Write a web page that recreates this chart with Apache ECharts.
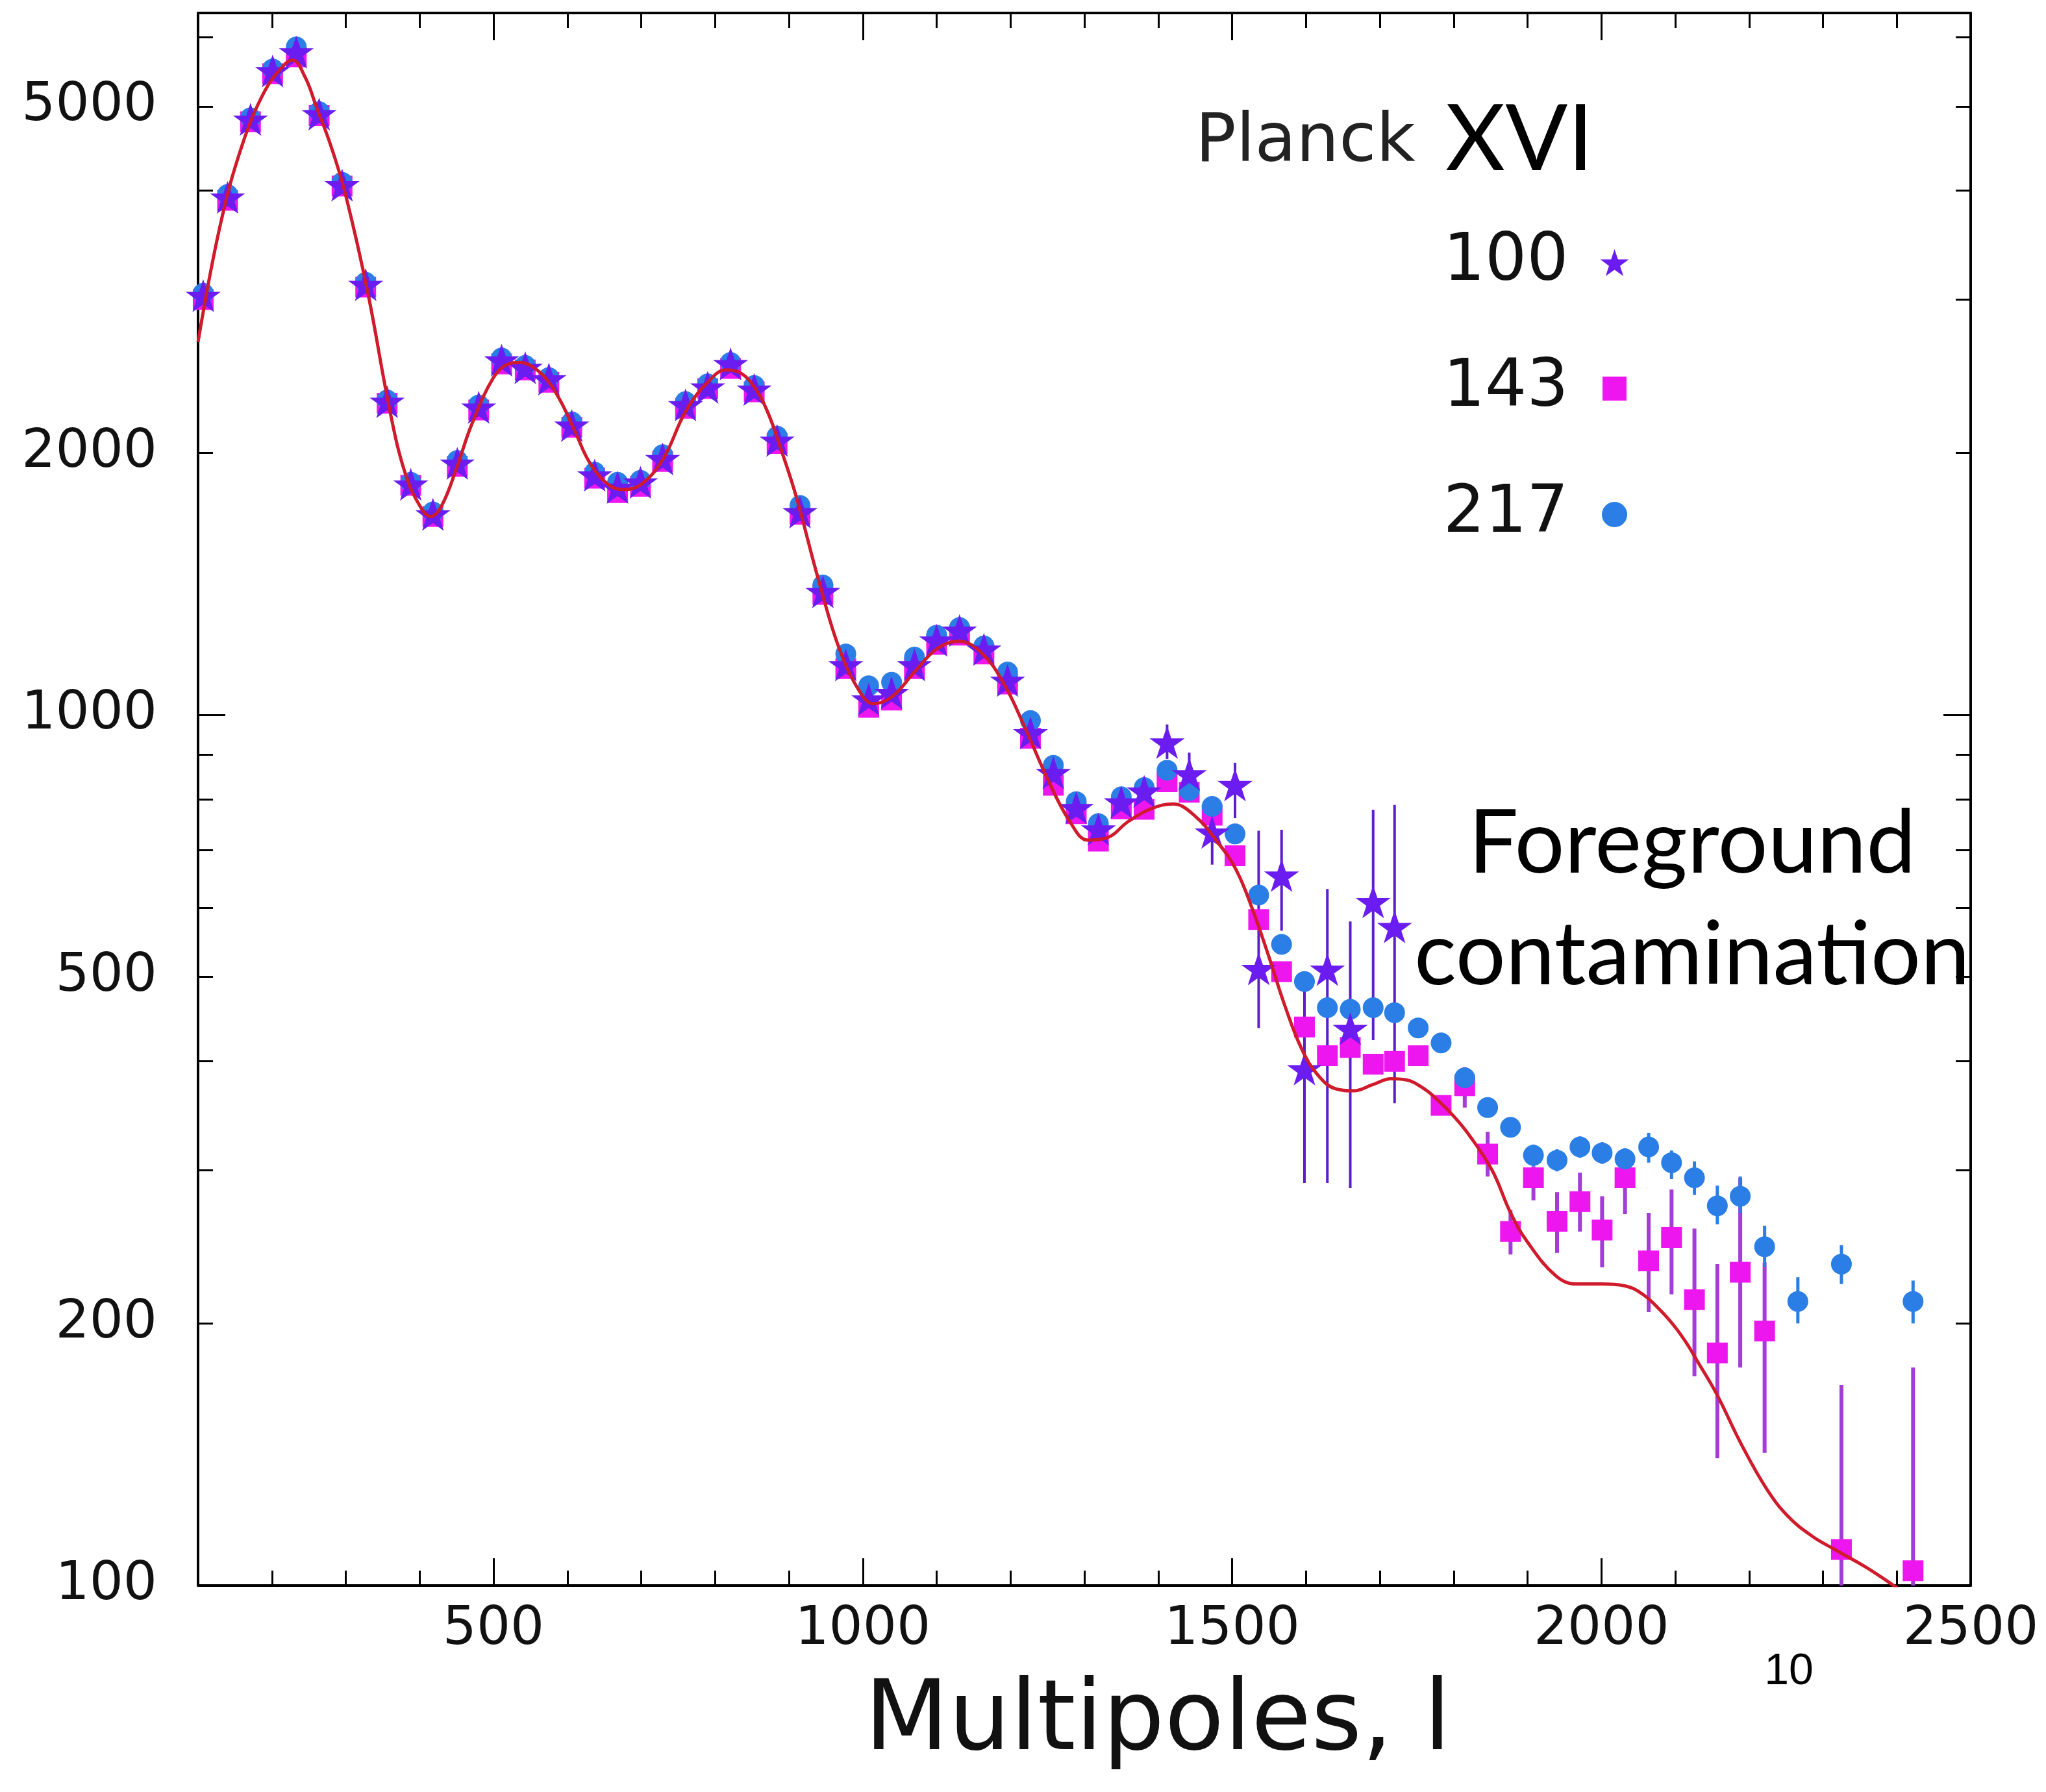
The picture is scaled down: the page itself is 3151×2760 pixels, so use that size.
<!DOCTYPE html>
<html>
<head>
<meta charset="utf-8">
<script src="https://cdn.jsdelivr.net/npm/echarts@6/dist/echarts.min.js"></script>
<style>
  html, body { margin: 0; padding: 0; background: #fff; }
  #chart { width: 3151px; height: 2760px; }
</style>
</head>
<body>
<div id="chart"></div>
<script>
// multipole bins (shared by all three frequency channels)
const ell = [107, 140, 171, 201, 233, 264, 295, 327, 356, 388, 418, 451, 480, 511, 543, 575, 606, 637, 668, 699,
  729, 760, 790, 821, 853, 884, 915, 946, 977, 1008, 1039, 1070, 1100, 1131, 1164, 1196, 1227, 1258, 1289, 1319,
  1350, 1381, 1412, 1442, 1473, 1504, 1536, 1567, 1598, 1629, 1660, 1691, 1720, 1752, 1783, 1815, 1846, 1877, 1908,
  1940, 1971, 2001, 2032, 2064, 2095, 2126, 2157, 2188, 2221, 2266, 2325, 2422]

// 100 GHz (stars)
const d100 = [3030, 3930, 4830, 5490, 5770, 4900, 4060, 3120, 2290, 1840, 1700, 1945, 2255, 2555, 2505, 2430, 2150, 1885, 1825, 1850,
  1968, 2270, 2378, 2530, 2365, 2066, 1710, 1385, 1141, 1042, 1060, 1141, 1218, 1250, 1189, 1095, 953, 858, 782, 739,
  794, 817, 930, 855, 733, 831, 511, 654, 392, 510, 436, 610, 571, null, null, null, null, null, null,
  null, null, null, null, null, null, null, null, null, null, null, null, null]

// 143 GHz (squares)
const d143 = [3000, 3900, 4800, 5450, 5700, 4880, 4050, 3100, 2280, 1835, 1690, 1930, 2240, 2530, 2490, 2410, 2140, 1870, 1800, 1830,
  1955, 2250, 2370, 2500, 2350, 2050, 1700, 1375, 1130, 1020, 1040, 1130, 1205, 1235, 1175, 1085, 940, 830, 770, 716,
  780, 779, 838, 815, 767, 689, 582, 507, 438, 406, 415, 397, 400, 406, 356, 375, 313, 255, 294,
  262, 276, 256, 294, 236, 251, 213, 185, 229, 196, null, 110, 104]

// 217 GHz (circles)
const d217 = [3050, 3960, 4850, 5520, 5850, 4930, 4090, 3140, 2300, 1850, 1710, 1960, 2270, 2570, 2520, 2440, 2170, 1900, 1850, 1860,
  1990, 2290, 2400, 2540, 2390, 2090, 1740, 1410, 1175, 1080, 1090, 1165, 1235, 1260, 1200, 1120, 985, 875, 795, 750,
  805, 825, 864, 819, 785, 730, 621, 545, 494, 461, 459, 461, 455, 437, 420, 383, 354, 336, 312,
  308, 319, 314, 309, 319, 306, 294, 273, 280, 245, 212, 234, 212]

// error bars: [l, low, high]
const err100 = [[1412, 890, 975], [1442, 800, 905], [1473, 673, 803], [1504, 761, 881], [1536, 437, 736],
  [1567, 565, 738], [1598, 290, 500], [1629, 290, 631], [1660, 286, 579], [1691, 423, 778], [1720, 358, 788]]
const err143 = [[1815, 354, 394], [1846, 295, 332], [1877, 240, 270], [1908, 277, 303], [1940, 241, 283],
  [1971, 255, 298], [2001, 232, 280], [2032, 267, 300], [2064, 206, 268], [2095, 216, 285], [2126, 174, 257],
  [2157, 140, 234], [2188, 178, 294], [2221, 142, 235], [2325, 100, 170], [2422, 100, 178]]
const err217 = [[1908, 303, 321], [1940, 299, 317], [1971, 310, 328], [2001, 305, 323], [2032, 300, 318],
  [2064, 306, 331], [2095, 293, 316], [2126, 281, 307], [2157, 260, 288], [2188, 268, 295], [2221, 232, 259],
  [2266, 200, 226], [2325, 222, 246], [2422, 200, 224]]

// best-fit model curve
const theoryL = [100, 130, 160, 190, 215, 228, 245, 260, 280, 300, 330, 360, 380, 400, 415, 430, 450, 470, 500, 520,
  535, 550, 570, 590, 610, 630, 655, 675, 700, 730, 760, 790, 815, 830, 850, 870, 890, 910, 940, 970,
  1000, 1015, 1040, 1070, 1100, 1130, 1160, 1190, 1220, 1250, 1280, 1305, 1330, 1360, 1390, 1420, 1450, 1480, 1505, 1527,
  1550, 1572, 1595, 1617, 1640, 1665, 1690, 1715, 1735, 1760, 1780, 1800, 1820, 1852, 1877, 1900, 1938, 1966, 2000, 2031,
  2056, 2080, 2100, 2115, 2130, 2156, 2190, 2224, 2253, 2285, 2316, 2358, 2392, 2410]
const theoryV = [2680, 3650, 4520, 5200, 5560, 5650, 5400, 5000, 4500, 3950, 3050, 2230, 1900, 1740, 1690, 1740, 1920, 2150, 2440, 2530,
  2540, 2520, 2440, 2300, 2120, 1950, 1840, 1815, 1840, 1970, 2230, 2410, 2490, 2480, 2400, 2240, 2010, 1780, 1430, 1180,
  1050, 1030, 1050, 1120, 1190, 1215, 1180, 1090, 965, 845, 755, 718, 722, 755, 780, 790, 765, 715, 665, 600,
  527, 462, 412, 385, 372, 370, 376, 382, 381, 372, 360, 346, 330, 300, 268, 248, 227, 222, 222, 221,
  216, 207, 198, 190, 181, 166, 145, 129, 120, 114, 110, 105, 100.5, 98]

// axis ticks and labels
const xMajor = [500, 1000, 1500, 2000, 2500]
const xMinor = [200, 300, 400, 600, 700, 800, 900, 1100, 1200, 1300, 1400, 1600, 1700, 1800, 1900, 2100, 2200, 2300, 2400]
const yLabels = [100, 200, 500, 1000, 2000, 5000]
const yMajor = [100, 1000]
const yMinor = [200, 300, 400, 500, 600, 700, 800, 900, 2000, 3000, 4000, 5000, 6000]

const starPath = 'path://M50,0 L61.8,35.1 L98.9,35.1 L68.9,56.8 L80.3,91.9 L50,70.2 L19.7,91.9 L31.1,56.8 L1.1,35.1 L38.2,35.1 Z'
const tickFont = { fontFamily: 'DejaVu Sans', fontSize: 82, color: '#111' }

function pairs(values) {
  return ell.map((l, i) => values[i] == null ? null : [l, values[i]]).filter(Boolean)
}

function xAxisDef(position, ticks, len, showLine, labels) {
  return {
    type: 'value', min: 100, max: 2500, position,
    axisLine: { show: showLine, onZero: false, lineStyle: { color: '#000', width: 4 } },
    axisTick: { show: true, inside: true, length: len, customValues: ticks, lineStyle: { color: '#000', width: 3 } },
    axisLabel: labels
      ? { show: true, customValues: labels, margin: 28, ...tickFont, formatter: v => String(Math.round(v)) }
      : { show: false },
    splitLine: { show: false }
  }
}

function yAxisDef(position, ticks, len, showLine, labels) {
  return {
    type: 'log', logBase: 10, min: 100, max: 6400, position,
    axisLine: { show: showLine, onZero: false, lineStyle: { color: '#000', width: 4 } },
    axisTick: { show: true, inside: true, length: len, customValues: ticks, lineStyle: { color: '#000', width: 3 } },
    axisLabel: labels
      ? { show: true, customValues: labels, margin: 63, ...tickFont, formatter: v => String(Math.round(v)) }
      : { show: false },
    splitLine: { show: false }
  }
}

function errorBars(name, data, color, width) {
  return {
    type: 'custom',
    name,
    data,
    encode: { x: 0, y: [1, 2] },
    clip: true,
    silent: true,
    z: 1,
    renderItem: (params, api) => {
      const hi = api.coord([api.value(0), api.value(2)])
      const lo = api.coord([api.value(0), api.value(1)])
      return {
        type: 'line',
        shape: { x1: hi[0], y1: hi[1], x2: lo[0], y2: lo[1] },
        style: { stroke: color, lineWidth: width }
      }
    }
  }
}

const chart = echarts.init(document.getElementById('chart'), null, { renderer: 'canvas' })

const xMain = xAxisDef('bottom', xMajor, 42, true, xMajor)
xMain.name = 'Multipoles, l'
xMain.nameLocation = 'middle'
xMain.nameGap = 138
xMain.nameTextStyle = { fontFamily: 'DejaVu Sans', fontSize: 150, color: '#111', padding: [0, 0, 0, 226] }

const option = {
  backgroundColor: '#fff',
  animation: false,
  grid: { left: 305, right: 116, top: 20, bottom: 318, outerBoundsMode: 'none' },
  xAxis: [
    xMain,
    xAxisDef('bottom', xMinor, 23, false, null),
    xAxisDef('top', xMajor, 42, true, null),
    xAxisDef('top', xMinor, 23, false, null)
  ],
  yAxis: [
    yAxisDef('left', yMajor, 42, true, yLabels),
    yAxisDef('left', yMinor, 23, false, null),
    yAxisDef('right', yMajor, 42, true, null),
    yAxisDef('right', yMinor, 23, false, null)
  ],
  legend: {
    orient: 'vertical',
    right: 639,
    top: 354,
    align: 'right',
    padding: 0,
    itemWidth: 44,
    itemHeight: 44,
    itemGap: 93,
    selectedMode: false,
    textStyle: { fontFamily: 'DejaVu Sans', fontSize: 101, lineHeight: 101, color: '#111', padding: [0, 44, 0, 0] },
    data: [
      { name: '100', icon: starPath },
      { name: '143', icon: 'rect', itemStyle: { borderColor: '#fff', borderWidth: 7 } },
      { name: '217', icon: 'circle', itemStyle: { borderColor: '#fff', borderWidth: 5 } }
    ]
  },
  graphic: [
    { type: 'text', x: 1841, y: 221, style: { text: 'Planck', fontFamily: 'DejaVu Sans', fontSize: 104, fill: '#222', align: 'left', verticalAlign: 'middle' } },
    { type: 'text', x: 2226, y: 216, style: { text: 'XVI', fontFamily: 'Lato', fontSize: 142, fill: '#000', align: 'left', verticalAlign: 'middle' } },
    { type: 'text', x: 2606, y: 1386, style: { text: 'Foreground\ncontamination', fontFamily: 'Lato', fontSize: 136, lineHeight: 172, fill: '#000', align: 'center', verticalAlign: 'middle' } },
    { type: 'text', x: 2755, y: 2575, style: { text: '10', fontFamily: 'Liberation Sans', fontSize: 68, fill: '#000', align: 'center', verticalAlign: 'middle' } }
  ],
  series: [
    errorBars('err143', err143, '#a43cd6', 6),
    errorBars('err217', err217, '#2a7ee6', 5),
    errorBars('err100', err100, '#5b1fc9', 4),
    {
      name: '143', type: 'scatter', data: pairs(d143), symbol: 'rect', symbolSize: 32,
      itemStyle: { color: '#ee16ee', opacity: 1 }, z: 2
    },
    {
      name: '217', type: 'scatter', data: pairs(d217), symbol: 'circle', symbolSize: 32,
      itemStyle: { color: '#2a7ee6', opacity: 1 }, z: 3
    },
    {
      name: '100', type: 'scatter', data: pairs(d100), symbol: starPath, symbolSize: 54, symbolKeepAspect: true,
      itemStyle: { color: '#6b1cf0', opacity: 1 }, z: 4
    },
    {
      name: 'model', type: 'line', data: theoryL.map((l, i) => [l, theoryV[i]]),
      smooth: 0.4, showSymbol: false, clip: true,
      lineStyle: { color: '#cf1b2b', width: 5 }, z: 5
    }
  ]
}

chart.setOption(option)

window.addEventListener('resize', () => chart.resize())
</script>
</body>
</html>
